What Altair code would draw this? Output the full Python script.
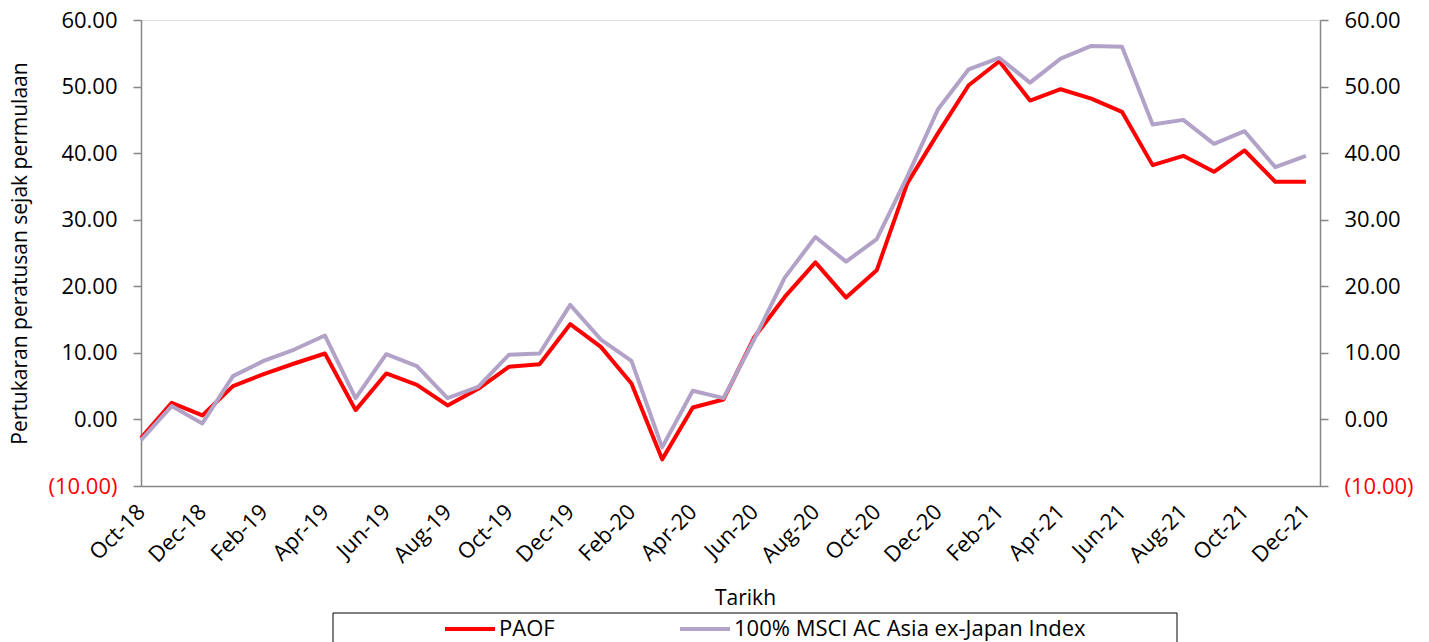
import json
import altair as alt
import pandas as pd

months = ["Oct-18", "Nov-18", "Dec-18", "Jan-19", "Feb-19", "Mar-19", "Apr-19", "May-19",
          "Jun-19", "Jul-19", "Aug-19", "Sep-19", "Oct-19", "Nov-19", "Dec-19", "Jan-20",
          "Feb-20", "Mar-20", "Apr-20", "May-20", "Jun-20", "Jul-20", "Aug-20", "Sep-20",
          "Oct-20", "Nov-20", "Dec-20", "Jan-21", "Feb-21", "Mar-21", "Apr-21", "May-21",
          "Jun-21", "Jul-21", "Aug-21", "Sep-21", "Oct-21", "Nov-21", "Dec-21"]

paof = [-2.8, 2.5, 0.6, 5.0, 6.8, 8.4, 9.9, 1.4, 6.9, 5.2, 2.1, 4.6, 7.9, 8.3, 14.3, 10.9,
        5.4, -6.0, 1.8, 3.0, 12.3, 18.4, 23.6, 18.3, 22.4, 35.5, 43.0, 50.2, 53.8, 47.9,
        49.6, 48.2, 46.2, 38.2, 39.6, 37.2, 40.4, 35.7, 35.7]

msci = [-3.1, 2.0, -0.6, 6.5, 8.8, 10.5, 12.6, 3.2, 9.8, 8.0, 3.2, 4.9, 9.7, 9.9, 17.2, 12.0,
        8.8, -4.2, 4.3, 3.2, 12.0, 21.3, 27.4, 23.7, 27.1, 36.5, 46.6, 52.6, 54.3, 50.6,
        54.2, 56.1, 56.0, 44.3, 45.0, 41.4, 43.3, 37.9, 39.6]

series_names = ["PAOF", "100% MSCI AC Asia ex-Japan Index"]
series_colors = ["#FF0000", "#B3A2C7"]
y_ticks = [-10, 0, 10, 20, 30, 40, 50, 60]
x_tick_idx = list(range(0, len(months), 2))

rows = []
for name, vals in zip(series_names, [paof, msci]):
    for i, v in enumerate(vals):
        rows.append({"idx": i, "month": months[i], "series": name, "value": v})
df = pd.DataFrame(rows)

FONT = "Open Sans"
NBSP = "\u00a0"
label_fmt = ("datum.value < 0 ? '(' + format(-datum.value, ',.2f') + ')' : "
             "format(datum.value, ',.2f') + '" + NBSP + "'")
label_color = {"expr": "datum.value < 0 ? '#FF0000' : '#000000'"}

x_scale = alt.Scale(domain=[0, 38.46], nice=False, zero=False)
y_scale = alt.Scale(domain=[-10, 60], nice=False, zero=False)

x_axis = alt.Axis(
    values=x_tick_idx,
    labelExpr=json.dumps(months) + "[datum.value]",
    labelAngle=-45, labelAlign="right", labelBaseline="middle",
    labelPadding=22, labelFlush=False, labelOverlap=False,
    labelFont=FONT, labelFontSize=22, labelColor="#000000",
    ticks=False, grid=False,
    domainColor="#868686", domainWidth=1.5,
    title="Tarikh", titleFont=FONT, titleFontSize=21, titleFontWeight="normal",
    titleColor="#000000", titleX=604, titleY=112,
    titleAlign="center", titleBaseline="middle",
)

lines = alt.Chart(df).mark_line(strokeWidth=4, strokeJoin="round").encode(
    x=alt.X("idx:Q", scale=x_scale, axis=x_axis),
    y=alt.Y(
        "value:Q", scale=y_scale,
        axis=alt.Axis(
            orient="left", values=y_ticks, labelExpr=label_fmt, labelColor=label_color,
            labelFont=FONT, labelFontSize=22, labelPadding=16,
            ticks=True, tickSize=8, tickColor="#868686", tickWidth=1.5,
            domainColor="#868686", domainWidth=1.5, grid=False,
            title="Pertukaran peratusan sejak permulaan", titleFont=FONT,
            titleFontSize=21, titleFontWeight="normal", titleColor="#000000",
            titleAngle=270, titleX=-121, titleY=233, titleAlign="center",
            titleBaseline="middle",
        ),
    ),
    color=alt.Color(
        "series:N",
        scale=alt.Scale(domain=series_names, range=series_colors),
        sort=series_names,
        legend=alt.Legend(
            orient="none", legendX=302, legendY=582, direction="horizontal",
            title=None, symbolType="stroke", symbolSize=2500, symbolStrokeWidth=4,
            labelFont=FONT, labelFontSize=22, labelColor="#000000", labelOffset=2,
            labelLimit=600, columnPadding=117, padding=0,
        ),
    ),
    order=alt.Order("series:N", sort="descending"),
)

right_axis = alt.Chart(df).mark_point(opacity=0).encode(
    x=alt.X("idx:Q", scale=x_scale, axis=x_axis),
    y=alt.Y(
        "value:Q", scale=y_scale,
        axis=alt.Axis(
            orient="right", values=y_ticks, labelExpr=label_fmt, labelColor=label_color,
            labelFont=FONT, labelFontSize=22, labelPadding=16,
            ticks=True, tickSize=8, tickColor="#868686", tickWidth=1.5,
            domainColor="#868686", domainWidth=1.5, grid=False, title=None,
        ),
    ),
)

legend_box = alt.Chart(alt.Data(values=[{"box": 1}])).mark_rect(
    fillOpacity=0, stroke="#000000", strokeWidth=1
).encode(
    x=alt.value(192), x2=alt.value(1036), y=alt.value(593), y2=alt.value(700)
)

chart = alt.layer(lines, right_axis, legend_box).resolve_axis(
    y="independent"
).properties(
    width=1179, height=466,
    autosize=alt.AutoSizeParams(type="none"),
    padding={"left": 133, "top": 12, "right": 100, "bottom": 156},
).configure_view(strokeWidth=0, strokeOpacity=0).configure(background="#FFFFFF")

chart.save("out.html", embed_options={"renderer": "svg", "actions": False})
